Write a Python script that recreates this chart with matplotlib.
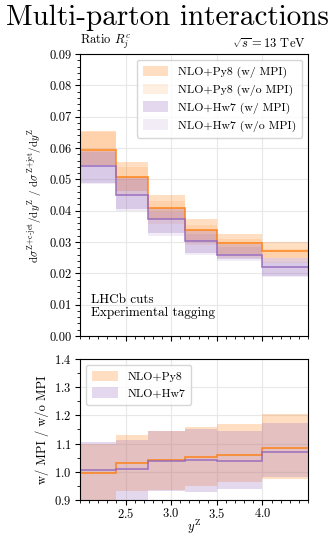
import numpy as np
import matplotlib
matplotlib.use('Agg')
import matplotlib.pyplot as plt
from matplotlib.patches import Patch
from matplotlib.ticker import AutoMinorLocator, MultipleLocator

plt.rcParams['font.family'] = ['cmr10', 'DejaVu Serif']
plt.rcParams['mathtext.fontset'] = 'cm'
plt.rcParams['axes.formatter.use_mathtext'] = True

# bins in y^Z
y_edges = [2.0, 2.4, 2.75, 3.15, 3.5, 4.0, 4.5]

# ratio R_j^c, central values (w/ MPI)
py8_mpi = [0.0593, 0.0507, 0.0410, 0.0338, 0.0296, 0.0270]
hw7_mpi = [0.0543, 0.0451, 0.0373, 0.0303, 0.0259, 0.0221]

# uncertainty bands
py8_mpi_lo = [0.0545, 0.0462, 0.0372, 0.0304, 0.0262, 0.0248]
py8_mpi_hi = [0.0654, 0.0556, 0.0449, 0.0372, 0.0326, 0.0300]
py8_nompi_lo = [0.0547, 0.0450, 0.0358, 0.0290, 0.0250, 0.0232]
py8_nompi_hi = [0.0650, 0.0540, 0.0432, 0.0355, 0.0308, 0.0278]
hw7_mpi_lo = [0.0487, 0.0404, 0.0328, 0.0266, 0.0245, 0.0192]
hw7_mpi_hi = [0.0592, 0.0506, 0.0410, 0.0338, 0.0295, 0.0250]
hw7_nompi_lo = [0.0485, 0.0398, 0.0320, 0.0258, 0.0240, 0.0188]
hw7_nompi_hi = [0.0588, 0.0500, 0.0396, 0.0326, 0.0285, 0.0236]

# w/ MPI / w/o MPI
py8_ratio = [0.997, 1.030, 1.042, 1.051, 1.060, 1.083]
hw7_ratio = [1.005, 1.011, 1.038, 1.041, 1.037, 1.069]
py8_ratio_lo = [0.85, 0.933, 0.937, 0.950, 0.965, 0.973]
py8_ratio_hi = [1.098, 1.130, 1.146, 1.160, 1.170, 1.205]
hw7_ratio_lo = [0.85, 0.85, 0.932, 0.928, 0.938, 0.980]
hw7_ratio_hi = [1.107, 1.113, 1.143, 1.151, 1.146, 1.172]

x_ticks = [2.5, 3.0, 3.5, 4.0]

c_py8 = '#ff7f0e'
c_hw7 = '#9467bd'
a_mpi = 0.25
a_nompi = 0.12

fig = plt.figure(figsize=(3.34, 5.35), dpi=100)
ax1 = fig.add_axes([0.2395, 0.372, 0.6826, 0.527])
ax2 = fig.add_axes([0.2395, 0.0654, 0.6826, 0.2636])

# --- top panel ---
ax1.stairs(py8_nompi_hi, y_edges, baseline=py8_nompi_lo, fill=True, color=c_py8, alpha=a_nompi, lw=0)
ax1.stairs(py8_mpi_hi, y_edges, baseline=py8_mpi_lo, fill=True, color=c_py8, alpha=a_mpi, lw=0)
ax1.stairs(hw7_nompi_hi, y_edges, baseline=hw7_nompi_lo, fill=True, color=c_hw7, alpha=a_nompi, lw=0)
ax1.stairs(hw7_mpi_hi, y_edges, baseline=hw7_mpi_lo, fill=True, color=c_hw7, alpha=a_mpi, lw=0)
ax1.stairs(py8_mpi, y_edges, baseline=None, color=c_py8, lw=1.2, alpha=0.85)
ax1.stairs(hw7_mpi, y_edges, baseline=None, color=c_hw7, lw=1.2, alpha=0.85)

ax1.set_xlim(2.0, 4.5)
ax1.set_ylim(0.0, 0.09)
ax1.set_xticks(x_ticks)
ax1.xaxis.set_minor_locator(MultipleLocator(0.1))
ax1.set_xticklabels([])
ax1.set_yticks(np.arange(0, 0.091, 0.01))
ax1.set_yticklabels(['%.2f' % v for v in np.arange(0, 0.091, 0.01)])
ax1.yaxis.set_minor_locator(AutoMinorLocator(5))
ax1.grid(True, color='#e8e8e8', lw=0.8)
ax1.set_axisbelow(True)
ax1.set_ylabel(r'$\mathrm{d}\sigma^{\mathrm{Z\!+\!c\text{-}jet}}/\mathrm{d}y^{\mathrm{Z}}$ / '
               r'$\mathrm{d}\sigma^{\mathrm{Z\!+\!jet}}/\mathrm{d}y^{\mathrm{Z}}$', fontsize=8)
ax1.text(0.0, 1.012, r'Ratio $R_j^c$', transform=ax1.transAxes, fontsize=9, ha='left', va='bottom')
ax1.text(0.99, 1.012, r'$\sqrt{s}=13$ TeV', transform=ax1.transAxes,
         fontsize=9, ha='right', va='bottom')
ax1.text(0.05, 0.06, 'LHCb cuts\nExperimental tagging', transform=ax1.transAxes,
         fontsize=9.5, ha='left', va='bottom', linespacing=1.1)

handles = [Patch(color=c_py8, alpha=a_mpi, lw=0), Patch(color=c_py8, alpha=a_nompi, lw=0),
           Patch(color=c_hw7, alpha=a_mpi, lw=0), Patch(color=c_hw7, alpha=a_nompi, lw=0)]
labels = ['NLO+Py8 (w/ MPI)', 'NLO+Py8 (w/o MPI)', 'NLO+Hw7 (w/ MPI)', 'NLO+Hw7 (w/o MPI)']
ax1.legend(handles, labels, loc='upper right', fontsize=8.5, frameon=True,
           handlelength=2.2, handleheight=1.0, labelspacing=0.45, borderpad=0.5)

# --- ratio panel ---
ax2.stairs(py8_ratio_hi, y_edges, baseline=py8_ratio_lo, fill=True, color=c_py8, alpha=a_mpi, lw=0)
ax2.stairs(hw7_ratio_hi, y_edges, baseline=hw7_ratio_lo, fill=True, color=c_hw7, alpha=a_mpi, lw=0)
ax2.stairs(py8_ratio, y_edges, baseline=None, color=c_py8, lw=1.2, alpha=0.85)
ax2.stairs(hw7_ratio, y_edges, baseline=None, color=c_hw7, lw=1.2, alpha=0.85)

ax2.set_xlim(2.0, 4.5)
ax2.set_ylim(0.9, 1.4)
ax2.set_xticks(x_ticks)
ax2.xaxis.set_minor_locator(MultipleLocator(0.1))
ax2.yaxis.set_major_locator(MultipleLocator(0.1))
ax2.yaxis.set_minor_locator(AutoMinorLocator(2))
ax2.grid(True, color='#e8e8e8', lw=0.8)
ax2.set_axisbelow(True)
ax2.set_xlabel(r'$y^{\mathrm{Z}}$', fontsize=9, va='center')
ax2.xaxis.set_label_coords(0.5, -0.188)
ax2.set_ylabel('w/ MPI / w/o MPI', fontsize=9)
ax2.legend([Patch(color=c_py8, alpha=a_mpi, lw=0), Patch(color=c_hw7, alpha=a_mpi, lw=0)],
           ['NLO+Py8', 'NLO+Hw7'], loc='upper left', fontsize=8.5, frameon=True,
           handlelength=2.2, handleheight=1.0, labelspacing=0.45, borderpad=0.5)

for ax in (ax1, ax2):
    ax.tick_params(labelsize=9, direction='out', length=3.5, pad=2.5)
    ax.tick_params(which='minor', length=2)
ax2.tick_params(axis='x', pad=1.5)

fig.text(0.5, 0.966, 'Multi-parton interactions', fontsize=21, ha='center', va='center')

fig.savefig('out.png', dpi=100)
